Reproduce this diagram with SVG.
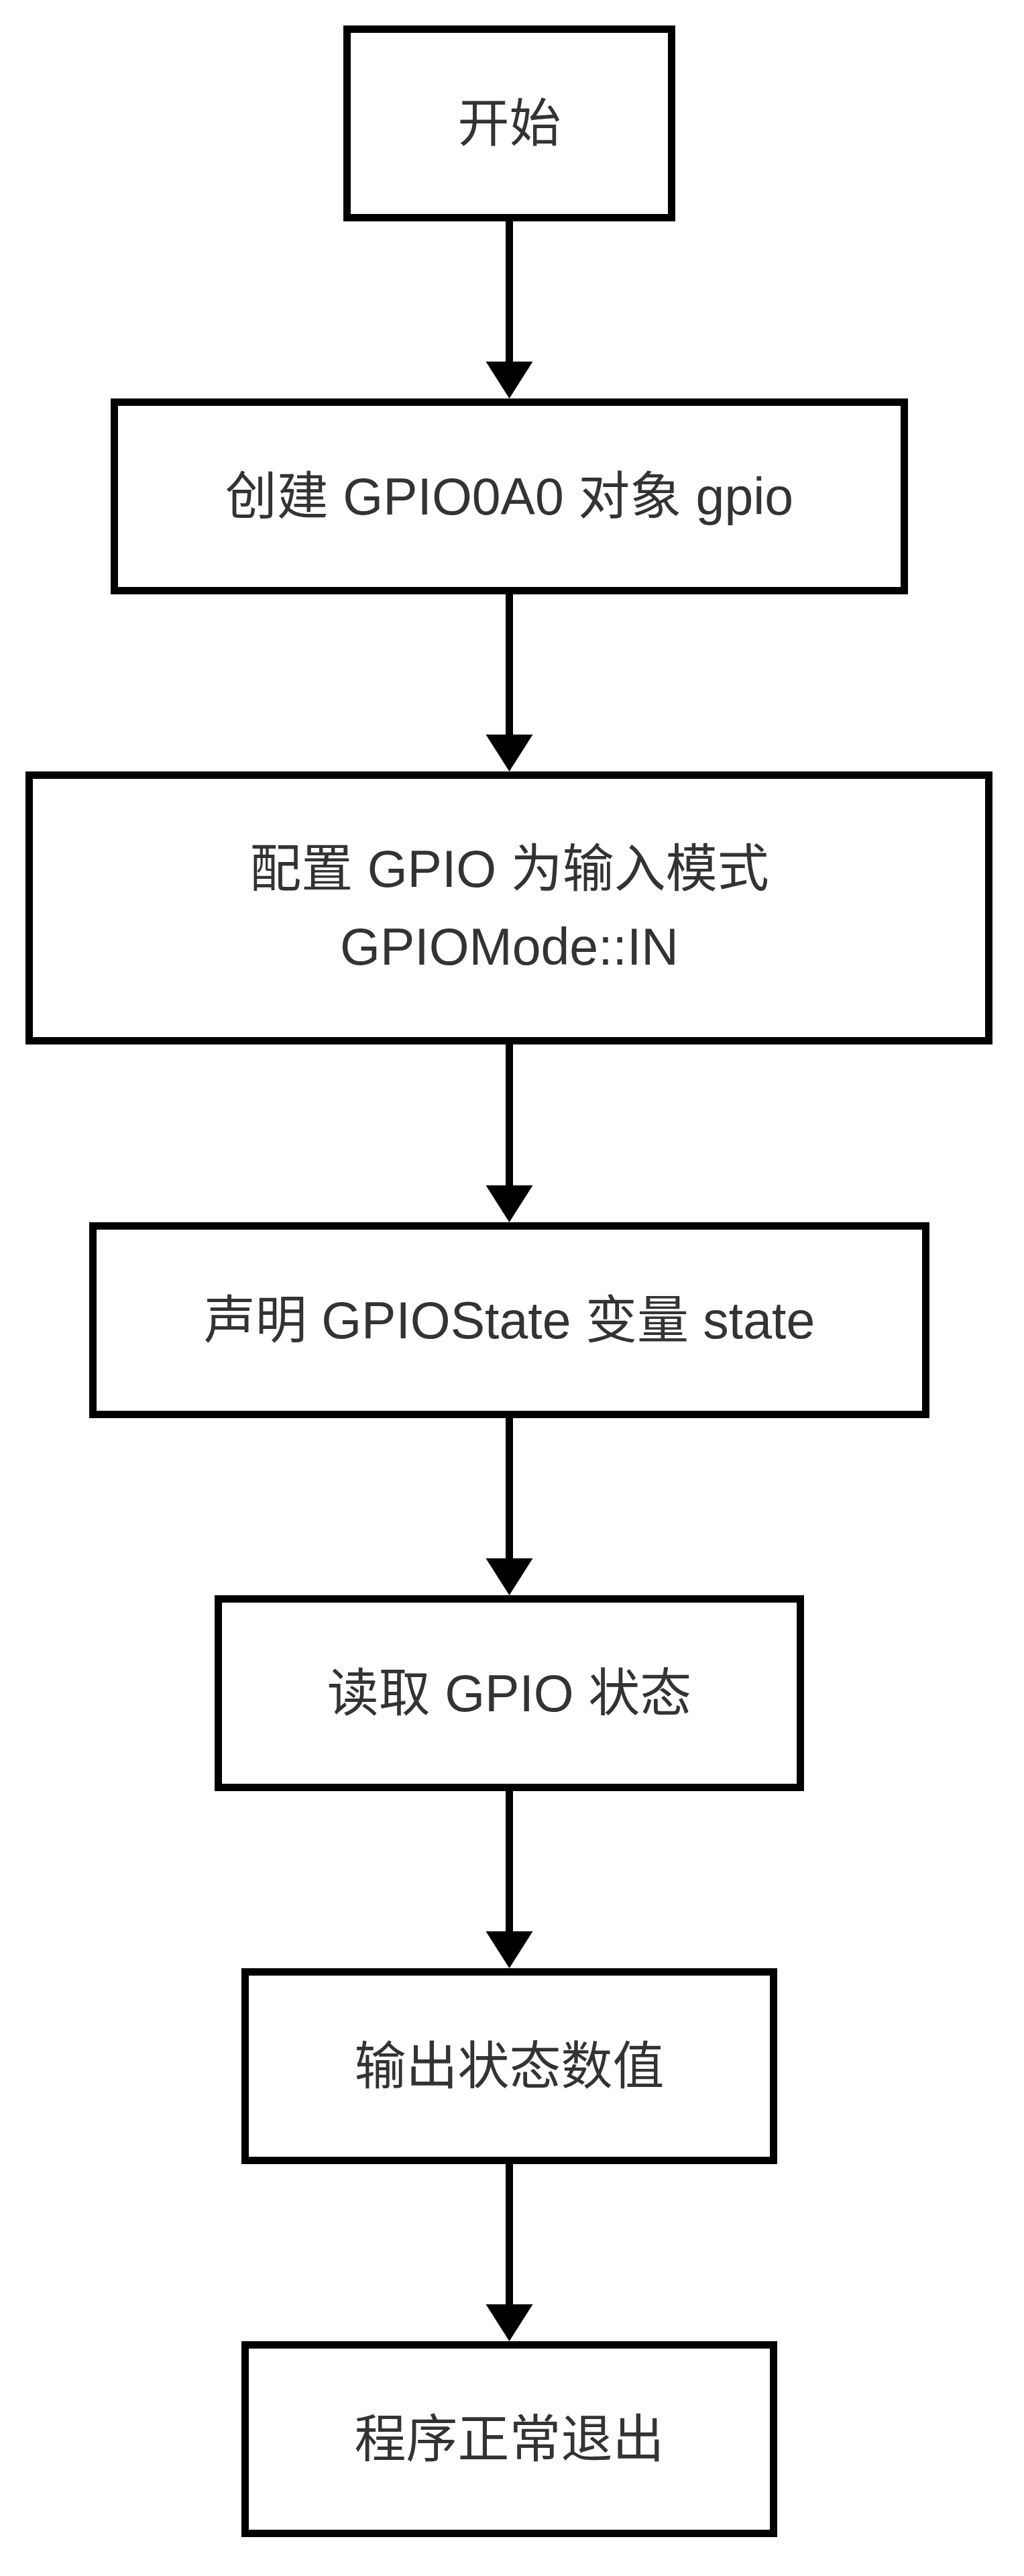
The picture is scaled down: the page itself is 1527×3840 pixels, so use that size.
<svg xmlns="http://www.w3.org/2000/svg" width="1527" height="3840" viewBox="0 0 1527 3840">
<style>
.box{fill:#ffffff;stroke:#000000;stroke-width:11}
.lbl{font-family:"Liberation Sans",Arial,"Noto Sans CJK SC",sans-serif;font-size:77px;fill:#333333;text-anchor:middle}
.edge{stroke:#000000;stroke-width:11;fill:none}
.head{fill:#000000;stroke:none}
</style>
<rect x="0" y="0" width="1527" height="3840" fill="#ffffff"/>
<g id="connectors">
<line class="edge" x1="759.5" y1="330" x2="759.5" y2="540"/>
<polygon class="head" points="724.5,539 794.5,539 759.5,594"/>
<line class="edge" x1="759.5" y1="886" x2="759.5" y2="1096"/>
<polygon class="head" points="724.5,1095 794.5,1095 759.5,1150"/>
<line class="edge" x1="759.5" y1="1557" x2="759.5" y2="1768"/>
<polygon class="head" points="724.5,1767 794.5,1767 759.5,1822"/>
<line class="edge" x1="759.5" y1="2114" x2="759.5" y2="2324"/>
<polygon class="head" points="724.5,2323 794.5,2323 759.5,2378"/>
<line class="edge" x1="759.5" y1="2670" x2="759.5" y2="2880"/>
<polygon class="head" points="724.5,2879 794.5,2879 759.5,2934"/>
<line class="edge" x1="759.5" y1="3226" x2="759.5" y2="3436"/>
<polygon class="head" points="724.5,3435 794.5,3435 759.5,3490"/>
</g>
<g id="n1">
<rect class="box" x="517.5" y="43.5" width="484" height="281"/>
<text class="lbl" x="759.5" y="211">开始</text>
</g>
<g id="n2">
<rect class="box" x="170.5" y="599.5" width="1178" height="281"/>
<text class="lbl" x="759.5" y="767">创建 GPIO0A0 对象 gpio</text>
</g>
<g id="n3">
<rect class="box" x="43.5" y="1155.5" width="1431" height="396"/>
<text class="lbl" x="759.5" y="1322">配置 GPIO 为输入模式</text>
<text class="lbl" x="759.5" y="1438">GPIOMode::IN</text>
</g>
<g id="n4">
<rect class="box" x="138.5" y="1827.5" width="1242" height="281"/>
<text class="lbl" x="759.5" y="1995">声明 GPIOState 变量 state</text>
</g>
<g id="n5">
<rect class="box" x="325.5" y="2383.5" width="868" height="281"/>
<text class="lbl" x="759.5" y="2551">读取 GPIO 状态</text>
</g>
<g id="n6">
<rect class="box" x="365.5" y="2939.5" width="788" height="281"/>
<text class="lbl" x="759.5" y="3107">输出状态数值</text>
</g>
<g id="n7">
<rect class="box" x="365.5" y="3495.5" width="788" height="281"/>
<text class="lbl" x="759.5" y="3663">程序正常退出</text>
</g>
</svg>
